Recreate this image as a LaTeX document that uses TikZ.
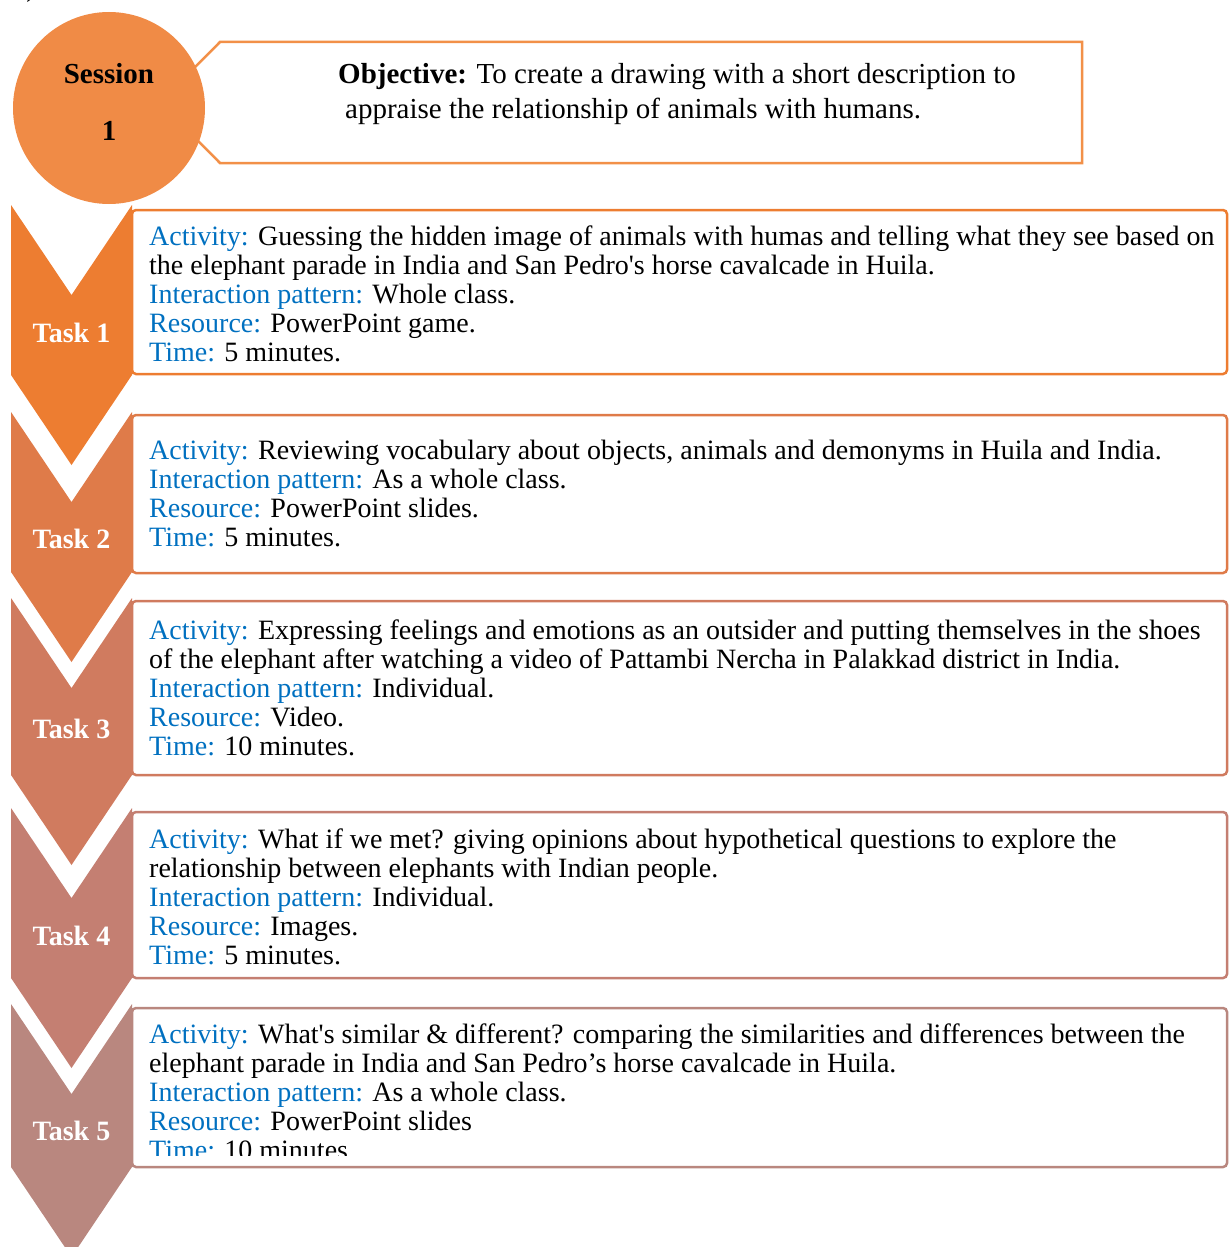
\documentclass[tikz,border=0pt]{standalone}
\usepackage{fontspec}
\setmainfont{Liberation Serif}
\newfontfamily\sq{Liberation Serif}
\definecolor{cA}{HTML}{ED7D31}
\definecolor{cB}{HTML}{DF7B49}
\definecolor{cC}{HTML}{D07B5F}
\definecolor{cD}{HTML}{C47F72}
\definecolor{cE}{HTML}{B9877F}
\definecolor{circ}{HTML}{F08B46}
\definecolor{objc}{HTML}{F29048}
\definecolor{lbl}{HTML}{0070C0}
\newcommand{\lb}[1]{\textcolor{lbl}{#1}}
\newcommand{\ap}{{\sq'}}
\tikzset{
  txt/.style={anchor=base west, align=left, inner sep=0pt, font=\fontsize{28}{29}\selectfont},
  objtxt/.style={anchor=base west, inner sep=0pt, font=\fontsize{29}{35}\selectfont},
  tasklbl/.style={text=white, inner sep=0pt, font=\fontsize{28}{29}\selectfont\bfseries},
  sesslbl/.style={inner sep=0pt, font=\fontsize{29}{35}\selectfont\bfseries},
  boxline/.style={line width=2.5pt, rounded corners=4pt}
}
\begin{document}
\begin{tikzpicture}[x=1pt,y=-1pt]
\useasboundingbox (0,0) rectangle (1229,1247);
% fragment at top
\node[anchor=base, inner sep=0pt, font=\fontsize{28}{29}\selectfont] (frag) at (31,-3) {)};
% objective box
\draw[objc, line width=2.5pt] (160,102.5) -- (220,42) -- (1082,42) -- (1082,163) -- (220,163) -- cycle;
\node[circle, fill=circ, minimum size=192pt, inner sep=0pt] (sess) at (109,108) {};
\node[sesslbl] (sessA) at (109,74) {Session};
\node[sesslbl] (sessB) at (109,131) {1};
\node[objtxt] (obj1) at (338,83) {\textbf{Objective:} To create a drawing with a short description to};
\node[objtxt] (obj2) at (345,118) {appraise the relationship of animals with humans.};
% chevrons and boxes
\foreach \t/\e/\bt/\bb/\c in {205/375/210/374/cA, 412/572/415/573/cB, 598/775/601/775/cC, 808/978/812/978/cD, 1004/1167/1008/1167/cE}{
  \draw[\c, boxline] (132,\bt) -- (1227,\bt) -- (1227,\bb) -- (132,\bb) -- cycle;
  \fill[\c] (11,\t) -- (71.5,\t+90) -- (132,\t) -- (132,\e) -- (71.5,\e+90) -- (11,\e) -- cycle;
}
\node[tasklbl] (t1) at (71.5,333) {Task 1};
\node[tasklbl] (t2) at (71.5,539) {Task 2};
\node[tasklbl] (t3) at (71.5,729) {Task 3};
\node[tasklbl] (t4) at (71.5,936) {Task 4};
\node[tasklbl] (t5) at (71.5,1131) {Task 5};
% texts (anchor at baseline of the last line)
\node[txt] (a1) at (149,361) {\lb{Activity:} Guessing the hidden image of animals with humas and telling what they see based on\\
the elephant parade in India and San Pedro\ap s horse cavalcade in Huila.\\
\lb{Interaction pattern:} Whole class.\\
\lb{Resource:} PowerPoint game.\\
\lb{Time:} 5 minutes.};
\node[txt] (a2) at (149,546) {\lb{Activity:} Reviewing vocabulary about objects, animals and demonyms in Huila and India.\\
\lb{Interaction pattern:} As a whole class.\\
\lb{Resource:} PowerPoint slides.\\
\lb{Time:} 5 minutes.};
\node[txt] (a3) at (149,755) {\lb{Activity:} Expressing feelings and emotions as an outsider and putting themselves in the shoes\\
of the elephant after watching a video of Pattambi Nercha in Palakkad district in India.\\
\lb{Interaction pattern:} Individual.\\
\lb{Resource:} Video.\\
\lb{Time:} 10 minutes.};
\node[txt] (a4) at (149,964) {\lb{Activity:} What if we met? giving opinions about hypothetical questions to explore the\\
relationship between elephants with Indian people.\\
\lb{Interaction pattern:} Individual.\\
\lb{Resource:} Images.\\
\lb{Time:} 5 minutes.};
\begin{scope}
\clip (134,1010) rectangle (1225,1155);
\node[txt] (a5) at (149,1159) {\lb{Activity:} What\ap s similar \& different? comparing the similarities and differences between the\\
elephant parade in India and San Pedro’s horse cavalcade in Huila.\\
\lb{Interaction pattern:} As a whole class.\\
\lb{Resource:} PowerPoint slides\\
\lb{Time:} 10 minutes.};
\end{scope}
\end{tikzpicture}
\end{document}
